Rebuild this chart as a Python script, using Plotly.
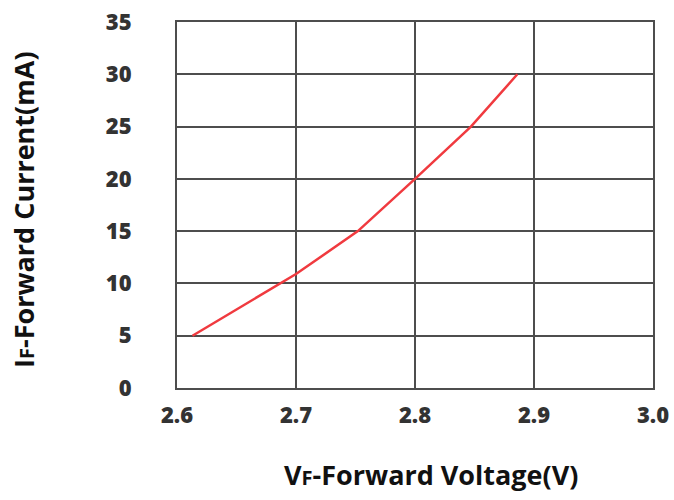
import plotly.graph_objects as go

voltage = [2.613, 2.7, 2.752, 2.8, 2.847, 2.886]
current = [5, 10.9, 15, 20, 25, 30]
x_ticks = [2.6, 2.7, 2.8, 2.9, 3.0]
x_tick_labels = ["2.6", "2.7", "2.8", "2.9", "3.0"]
y_ticks = [0, 5, 10, 15, 20, 25, 30, 35]

W, H = 674, 500
L, R, T, B = 177, 21, 22, 112

fig = go.Figure()
fig.add_trace(go.Scatter(x=voltage, y=current, mode="lines",
                         line=dict(color="#f03a3f", width=2.5), showlegend=False))

tickfont = dict(size=22, family="Open Sans", weight=800, color="#333333")
axis_common = dict(showgrid=True, gridcolor="#4d4d4d", gridwidth=2,
                   showline=True, linecolor="#4d4d4d", linewidth=2, mirror=True,
                   zeroline=False, ticks="", tickfont=tickfont)

fig.update_layout(
    width=W, height=H,
    margin=dict(l=L, r=R, t=T, b=B, autoexpand=False),
    paper_bgcolor="white", plot_bgcolor="white",
    font=dict(family="Open Sans", color="#333333"),
    xaxis=dict(range=[2.6, 3.0], tickvals=x_ticks, ticktext=x_tick_labels,
               ticklabelstandoff=7, **axis_common),
    yaxis=dict(range=[0, 35], tickvals=y_ticks, ticklabelstandoff=39, **axis_common),
)

pw = W - L - R
ph = H - T - B


def px_to_paper(xp, yp):
    return (xp - L) / pw, ((H - yp) - B) / ph


ax, ay = px_to_paper(431, 474)
bx, by = px_to_paper(23, 210)
fig.add_annotation(text="V<span style='font-size:20px'>F</span>-Forward Voltage(V)",
                   x=ax, y=ay, xref="paper", yref="paper", showarrow=False,
                   xanchor="center", yanchor="middle",
                   font=dict(size=27, family="Open Sans", weight="bold", color="#111111"))
fig.add_annotation(text="I<span style='font-size:20px'>F</span>-Forward Current(mA)",
                   x=bx, y=by, xref="paper", yref="paper", showarrow=False,
                   xanchor="center", yanchor="middle", textangle=-90,
                   font=dict(size=27, family="Open Sans", weight="bold", color="#111111"))

fig.write_html("out.html", config={"displayModeBar": False},
               post_script="document.body.style.margin='0';")
